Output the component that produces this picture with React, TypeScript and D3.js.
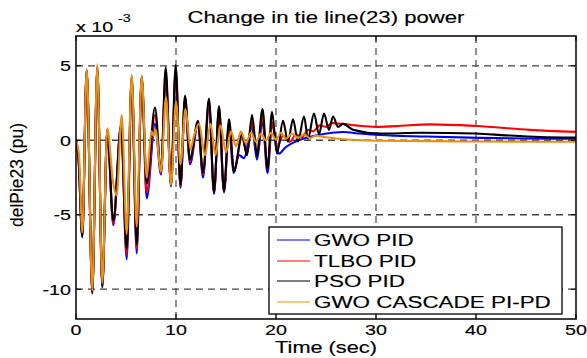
import React from "react";
import * as d3 from "d3";

const W = 587;
const H = 358;

const xTicks = [0, 10, 20, 30, 40, 50];
const yTicks = [-10, -5, 0, 5];
const yTickLabels = ["-10", "-5", "0", "5"];

const seriesNames = ["GWO PID", "TLBO PID", "PSO PID", "GWO CASCADE PI-PD"];
const seriesColors = ["#0000ff", "#ff0000", "#000000", "#e6901a"];

// values in units of 1e-3 pu, [time (s), value]
const gwoPid: [number, number][] = [
  [0, 0], [0.25, -1.2], [0.63, -6.5], [1.07, 4.7], [1.63, -10.2], [2.13, 4.9], [2.63, -9.9],
  [3.13, 0.6], [3.73, -5.7], [4.5, 0.9], [5.07, -8.0], [5.57, 4.1], [6.07, -7.6], [6.57, 4.1],
  [7.07, -3.9], [7.9, 1.1], [8.5, -2.3], [8.97, 4.2], [9.5, -3.1], [9.97, 4.6], [10.45, -3.2],
  [10.9, 2.7], [11.4, -1.6], [12.2, 1.1], [12.7, -2.5], [13.3, 2.4], [13.8, -3.6], [14.3, 1.9],
  [14.8, -3.5], [15.3, 0.9], [15.75, -2.2], [16.3, -1.0], [16.8, -1.2], [17.6, 0.9], [18.1, -1.3],
  [18.65, 1.3], [19.15, -2.2], [19.6, 1.1], [20.3, -0.9], [20.9, -0.5], [21.9, -0.1], [23.2, 0.2],
  [24.9, 0.44], [26.7, 0.55], [28.4, 0.45], [30.4, 0.35], [35, 0.25], [40.4, 0.16], [45, 0.12], [50, 0.1],
];

const tlboPid: [number, number][] = [
  [0, 0], [0.25, -1.2], [0.63, -6.4], [1.07, 4.7], [1.63, -10.2], [2.13, 4.9], [2.63, -9.8],
  [3.13, 0.7], [3.73, -5.6], [4.5, 1.0], [5.07, -7.7], [5.57, 4.2], [6.07, -7.3], [6.57, 4.2],
  [7.07, -3.5], [7.9, 1.7], [8.5, -2.2], [8.97, 4.5], [9.5, -3.0], [9.97, 4.8], [10.45, -3.1],
  [10.9, 2.9], [11.4, -1.4], [12.2, 1.2], [12.7, -2.3], [13.3, 2.6], [13.8, -3.5], [14.3, 2.1],
  [14.8, -3.4], [15.3, 1.1], [15.8, -2.0], [16.6, 0.2], [17.1, -0.9], [17.6, 1.2], [18.1, -0.9],
  [18.65, 1.6], [19.15, -1.9], [19.6, 1.2], [20.1, -0.5], [20.7, 0.3], [21.4, -0.1], [22.0, 0.4],
  [22.6, 0.2], [23.2, 0.7], [23.7, 0.6], [24.4, 1.0], [25.0, 0.9], [25.6, 1.15], [26.7, 1.1],
  [28, 1.0], [30, 0.9], [32, 0.95], [35.4, 1.07], [40, 0.96], [45.4, 0.7], [50, 0.56],
];

const psoPid: [number, number][] = [
  [0, 0], [0.25, -1.2], [0.63, -6.5], [1.07, 4.7], [1.63, -10.3], [2.13, 4.9], [2.63, -9.8],
  [3.13, 0.7], [3.73, -5.4], [4.5, 1.0], [5.07, -7.3], [5.57, 4.3], [6.07, -7.0], [6.57, 4.3],
  [7.07, -2.9], [7.9, 2.2], [8.5, -2.1], [8.97, 4.9], [9.5, -3.0], [9.97, 5.05], [10.45, -3.0],
  [10.9, 3.0], [11.4, -1.3], [12.2, 1.3], [12.7, -2.2], [13.3, 2.8], [13.8, -3.5], [14.3, 2.3],
  [14.8, -3.4], [15.3, 1.4], [15.8, -2.1], [16.6, 0.4], [17.1, -1.0], [17.6, 1.7], [18.1, -1.0],
  [18.65, 2.1], [19.15, -1.9], [19.6, 1.9], [20.1, -0.9], [20.7, 1.3], [21.2, -0.1], [21.7, 1.4],
  [22.2, -0.1], [22.8, 1.6], [23.2, 0.1], [23.8, 1.8], [24.3, 0.4], [24.8, 1.8], [25.3, 0.7],
  [25.7, 1.6], [26.2, 0.9], [26.7, 1.1], [27.7, 0.7], [30.4, 0.45], [34.4, 0.5], [40, 0.45],
  [43, 0.33], [46.4, 0.22], [50, 0.18],
];

const gwoCascade: [number, number][] = [
  [0, 0], [0.3, -1.0], [0.63, -6.2], [1.07, 4.8], [1.63, -10.1], [2.13, 5.1], [2.63, -9.6],
  [3.13, 0.8], [3.7, -2.8], [4.07, -3.7], [4.57, 1.7], [5.07, -6.3], [5.57, 4.4], [6.07, -5.8],
  [6.57, 4.3], [7.07, -2.5], [7.55, 0.6], [7.75, 0.3], [7.95, 0.7], [8.5, -2.1], [9.0, 2.9],
  [9.5, -3.0], [10.0, 2.6], [10.45, -1.6], [10.95, 2.1], [11.45, -0.6], [11.8, 0.3], [12.3, 1.1],
  [12.9, -1.0], [13.45, 1.1], [13.95, -1.0], [14.45, 1.0], [15.0, -0.8], [15.5, 0.6], [16.0, -0.4],
  [16.5, 0.6], [17.0, -0.2], [17.5, 0.5], [18.0, -0.1], [18.5, 0.45], [19.0, 0.0], [19.5, 0.5],
  [20.0, 0.05], [20.5, 0.5], [21.0, 0.1], [21.6, 0.45], [22.2, 0.15], [22.8, 0.4], [23.4, 0.15],
  [24.0, 0.3], [25.0, 0.2], [26.0, 0.12], [27.5, 0.03], [30, -0.03], [35, -0.06], [40, -0.08], [50, -0.1],
];

const allSeries = [gwoPid, tlboPid, psoPid, gwoCascade];

const FONT = "'Liberation Sans', Arial, Helvetica, sans-serif";
const SX = 1.36;

function SText(props: { x: number; y: number; size: number; anchor?: string; children: React.ReactNode }) {
  const { x, y, size, anchor = "start", children } = props;
  return (
    <text
      transform={`translate(${x},${y}) scale(${SX},1)`}
      fontSize={size}
      fontFamily={FONT}
      textAnchor={anchor}
      fill="#000"
      stroke="#000"
      strokeWidth={0.15}
    >
      {children}
    </text>
  );
}

export default function App() {
  const left = 76, right = 576, top = 36, bottom = 319;
  const x = d3.scaleLinear().domain([0, 50]).range([left, right]);
  const y = d3.scaleLinear().domain([-12, 7]).range([bottom, top]);
  const line = d3
    .line<[number, number]>()
    .x((d) => x(d[0]))
    .y((d) => y(d[1]))
    .curve(d3.curveMonotoneX);

  const tickLen = 5;
  const legX = 269, legY = 227, legW = 293, legH = 87;
  const legRows = [240, 261, 281, 302];

  return (
    <svg width={W} height={H} style={{ position: "absolute", left: 0, top: 0, background: "#fff" }}>
      <rect x={0} y={0} width={W} height={H} fill="#fff" />
      <defs>
        <clipPath id="clip">
          <rect x={left} y={top} width={right - left} height={bottom - top} />
        </clipPath>
      </defs>
      {/* grid */}
      {xTicks.slice(1, -1).map((t) => (
        <line key={"gx" + t} x1={x(t)} x2={x(t)} y1={top} y2={bottom} stroke="#555" strokeWidth={1.3} strokeDasharray="7,5" />
      ))}
      {yTicks.map((t) => (
        <line key={"gy" + t} x1={left} x2={right} y1={y(t)} y2={y(t)} stroke="#444" strokeWidth={1.3} strokeDasharray="7,5" />
      ))}
      {/* data */}
      <g clipPath="url(#clip)">
        {allSeries.map((s, i) => (
          <path key={i} d={line(s) || ""} fill="none" stroke={seriesColors[i]} strokeWidth={2.1} strokeLinejoin="round" />
        ))}
      </g>
      {/* ticks */}
      {xTicks.map((t) => (
        <g key={"tx" + t}>
          <line x1={x(t)} x2={x(t)} y1={bottom} y2={bottom - tickLen} stroke="#000" />
          <line x1={x(t)} x2={x(t)} y1={top} y2={top + tickLen} stroke="#000" />
          <SText x={x(t)} y={335} size={14.5} anchor="middle">{String(t)}</SText>
        </g>
      ))}
      {yTicks.map((t, i) => (
        <g key={"ty" + t}>
          <line x1={left} x2={left + tickLen} y1={y(t)} y2={y(t)} stroke="#000" />
          <line x1={right} x2={right - tickLen} y1={y(t)} y2={y(t)} stroke="#000" />
          <SText x={71} y={y(t) + 5.3} size={14.5} anchor="end">{yTickLabels[i]}</SText>
        </g>
      ))}
      {/* box */}
      <rect x={left} y={top} width={right - left} height={bottom - top} fill="none" stroke="#000" strokeWidth={1.5} />
      {/* exponent */}
      <SText x={76} y={32} size={14.5}>x 10</SText>
      <SText x={118} y={22} size={10.5}>-3</SText>
      {/* title */}
      <SText x={326} y={23} size={16.3} anchor="middle">Change in tie line(23) power</SText>
      {/* x label */}
      <SText x={326} y={353} size={16} anchor="middle">Time (sec)</SText>
      {/* y label */}
      <text
        transform={`translate(23,175) rotate(-90)`}
        fontSize={17.5}
        fontFamily={FONT}
        textAnchor="middle"
        fill="#000"
        stroke="#000"
        strokeWidth={0.15}
      >
        delPie23 (pu)
      </text>
      {/* legend */}
      <rect x={legX} y={legY} width={legW} height={legH} fill="#fff" stroke="#000" strokeWidth={1.3} />
      {seriesNames.map((n, i) => (
        <g key={n}>
          <line x1={277} x2={310} y1={legRows[i]} y2={legRows[i]} stroke={seriesColors[i]} strokeWidth={1.1} />
          <SText x={314} y={legRows[i] + 6} size={16.5}>{n}</SText>
        </g>
      ))}
    </svg>
  );
}
